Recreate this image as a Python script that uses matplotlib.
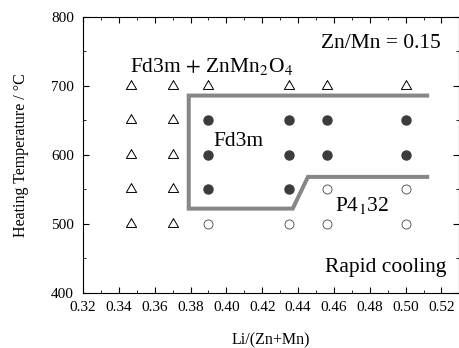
import matplotlib.pyplot as plt
from matplotlib.ticker import MultipleLocator

plt.rcParams['font.family'] = ['Liberation Serif', 'DejaVu Serif']
plt.rcParams['mathtext.fontset'] = 'stix'

# Fd3m + ZnMn2O4 (open triangles)
tri_x = [0.347, 0.347, 0.347, 0.347, 0.347,
         0.370, 0.370, 0.370, 0.370, 0.370,
         0.390, 0.435, 0.456, 0.500]
tri_y = [500, 550, 600, 650, 700,
         500, 550, 600, 650, 700,
         700, 700, 700, 700]

# Fd3m (filled circles)
fd_x = [0.390, 0.390, 0.390, 0.435, 0.435, 0.435, 0.456, 0.456, 0.500, 0.500]
fd_y = [550, 600, 650, 550, 600, 650, 600, 650, 600, 650]

# P4132 (open circles)
p4_x = [0.390, 0.435, 0.456, 0.456, 0.500, 0.500]
p4_y = [500, 500, 500, 550, 500, 550]

# phase boundary
bound_x = [0.512, 0.379, 0.379, 0.437, 0.4455, 0.512]
bound_y = [686, 686, 522, 522, 568, 568]

# equilateral triangle marker
tri_marker = [(0, 0.577), (-0.5, -0.289), (0.5, -0.289), (0, 0.577)]

fig = plt.figure(figsize=(4.59, 3.48), dpi=100)
ax = fig.add_axes([83 / 459, (348 - 292.7) / 348, 375.5 / 459, 275.7 / 348])

ax.plot(bound_x, bound_y, color='#878787', lw=2.9, solid_joinstyle='miter', zorder=1)
ax.plot(tri_x, tri_y, ls='none', marker=tri_marker, ms=8.5, mfc='white', mec='black', mew=0.7, zorder=2)
ax.plot(fd_x, fd_y, ls='none', marker='o', ms=6.5, mfc='#3c3c3c', mec='#3c3c3c', zorder=2)
ax.plot(p4_x, p4_y, ls='none', marker='o', ms=6.5, mfc='white', mec='#444444', mew=0.6, zorder=2)

ax.set_xlim(0.32, 0.5295)
ax.set_ylim(400, 800)
ax.xaxis.set_major_locator(MultipleLocator(0.02))
ax.xaxis.set_minor_locator(MultipleLocator(0.01))
ax.yaxis.set_major_locator(MultipleLocator(100))
ax.yaxis.set_minor_locator(MultipleLocator(50))
ax.tick_params(which='both', direction='in', top=True, right=True, labelsize=11)
ax.tick_params(axis='x', pad=6)
ax.tick_params(axis='y', pad=6.5)
ax.tick_params(which='major', length=4)
ax.tick_params(which='minor', length=2.5)
ax.set_xticklabels([f'{v:.2f}' for v in ax.get_xticks()])

ax.set_xlabel('Li/(Zn+Mn)', fontsize=11.5, labelpad=13)
ax.set_ylabel('Heating Temperature / °C', fontsize=11.5, labelpad=16)

ax.text(0.3465, 728, r'Fd3m $+$ ZnMn$_2$O$_4$', fontsize=15.5, va='center')
ax.text(0.5195, 761, 'Zn/Mn = 0.15', fontsize=15.5, ha='right', va='center')
ax.text(0.3925, 619, 'Fd3m', fontsize=15.5, va='center')
ax.text(0.4605, 527, r'P4$_1$32', fontsize=15.5, va='center')
ax.text(0.5225, 437, 'Rapid cooling', fontsize=15.5, ha='right', va='center')

fig.savefig('out.png', dpi=100)
